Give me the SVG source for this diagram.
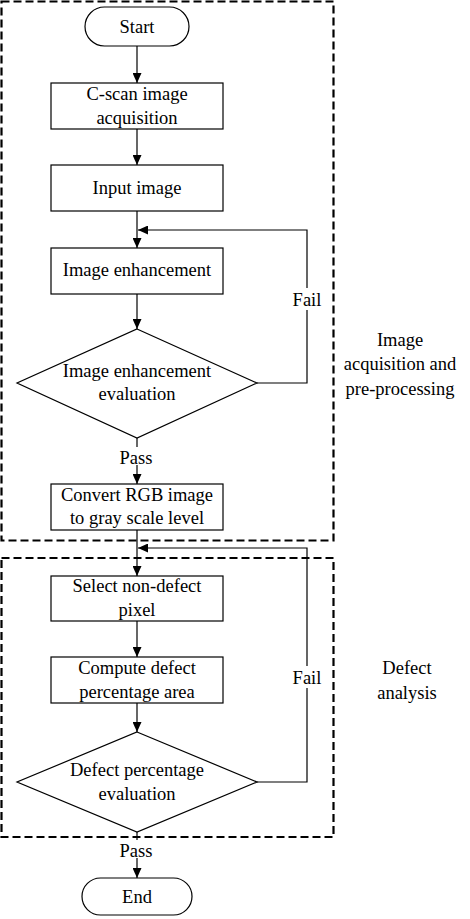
<svg xmlns="http://www.w3.org/2000/svg" width="470" height="919" viewBox="0 0 470 919">
<style>
.t{font-family:'Liberation Serif','Times New Roman',Times,serif;font-size:18.5px;fill:#000;text-anchor:middle}
.n{fill:#fff;stroke:#000;stroke-width:1.2}
.c{fill:none;stroke:#000;stroke-width:1.2}
.d{fill:none;stroke:#000;stroke-width:2.2;stroke-dasharray:8,4}
</style>
<defs>
<marker id="ah" markerUnits="userSpaceOnUse" markerWidth="11" markerHeight="9" refX="10" refY="4.5" orient="auto">
<path d="M0,0 L10,4.5 L0,9 z" fill="#000"/>
</marker>
</defs>
<rect width="470" height="919" fill="#fff"/>
<g font-family="Liberation Serif, Times New Roman, serif">
<g id="groups">
<rect class="d" x="1.5" y="1.5" width="332" height="539"/>
<rect class="d" x="1.5" y="558" width="332" height="279"/>
<text class="t" x="400" y="346">Image</text>
<text class="t" x="400" y="370">acquisition and</text>
<text class="t" x="400" y="395">pre-processing</text>
<text class="t" x="407" y="674">Defect</text>
<text class="t" x="407" y="699">analysis</text>
</g>
<g id="connectors">
<line class="c" x1="137" y1="46" x2="137" y2="83" marker-end="url(#ah)"/>
<line class="c" x1="137" y1="129" x2="137" y2="165" marker-end="url(#ah)"/>
<line class="c" x1="137" y1="211" x2="137" y2="248" marker-end="url(#ah)"/>
<line class="c" x1="137" y1="294" x2="137" y2="329" marker-end="url(#ah)"/>
<polyline class="c" points="257,383 307,383 307,230 138,230" marker-end="url(#ah)"/>
<rect x="290" y="288" width="34" height="22" fill="#fff"/>
<text class="t" x="307" y="306">Fail</text>
<line class="c" x1="137" y1="438" x2="137" y2="484" marker-end="url(#ah)"/>
<rect x="117" y="447" width="40" height="18" fill="#fff"/>
<text class="t" x="136" y="464">Pass</text>
<line class="c" x1="137" y1="530" x2="137" y2="576" marker-end="url(#ah)"/>
<polyline class="c" points="257,782 307,782 307,548 138,548" marker-end="url(#ah)"/>
<rect x="290" y="666" width="34" height="22" fill="#fff"/>
<text class="t" x="307" y="684">Fail</text>
<line class="c" x1="137" y1="621" x2="137" y2="657" marker-end="url(#ah)"/>
<line class="c" x1="137" y1="703" x2="137" y2="732" marker-end="url(#ah)"/>
<line class="c" x1="137" y1="832" x2="137" y2="878" marker-end="url(#ah)"/>
<rect x="117" y="840" width="40" height="18" fill="#fff"/>
<text class="t" x="136" y="857">Pass</text>
</g>
<g id="start">
<rect class="n" x="85" y="7" width="104" height="39" rx="19.5"/>
<text class="t" x="137" y="33">Start</text>
</g>
<g id="cscan">
<rect class="n" x="51" y="83" width="172" height="46"/>
<text class="t" x="137" y="100">C-scan image</text>
<text class="t" x="137" y="124">acquisition</text>
</g>
<g id="input">
<rect class="n" x="51" y="165" width="172" height="46"/>
<text class="t" x="137" y="194">Input image</text>
</g>
<g id="enhance">
<rect class="n" x="51" y="248" width="172" height="46"/>
<text class="t" x="137" y="276">Image enhancement</text>
</g>
<g id="eval1">
<polygon class="n" points="137,329 257,383 137,438 17,383"/>
<text class="t" x="137" y="377">Image enhancement</text>
<text class="t" x="137" y="400">evaluation</text>
</g>
<g id="convert">
<rect class="n" x="51" y="484" width="172" height="46"/>
<text class="t" x="137" y="501">Convert RGB image</text>
<text class="t" x="137" y="524">to gray scale level</text>
</g>
<g id="select">
<rect class="n" x="51" y="576" width="172" height="45"/>
<text class="t" x="137" y="592">Select non-defect</text>
<text class="t" x="137" y="616">pixel</text>
</g>
<g id="compute">
<rect class="n" x="51" y="657" width="172" height="46"/>
<text class="t" x="137" y="674">Compute defect</text>
<text class="t" x="137" y="698">percentage area</text>
</g>
<g id="eval2">
<polygon class="n" points="137,732 257,782 137,832 17,782"/>
<text class="t" x="137" y="776">Defect percentage</text>
<text class="t" x="137" y="800">evaluation</text>
</g>
<g id="end">
<rect class="n" x="82" y="878" width="110" height="37" rx="18.5"/>
<text class="t" x="137" y="903">End</text>
</g>
</g>
</svg>
